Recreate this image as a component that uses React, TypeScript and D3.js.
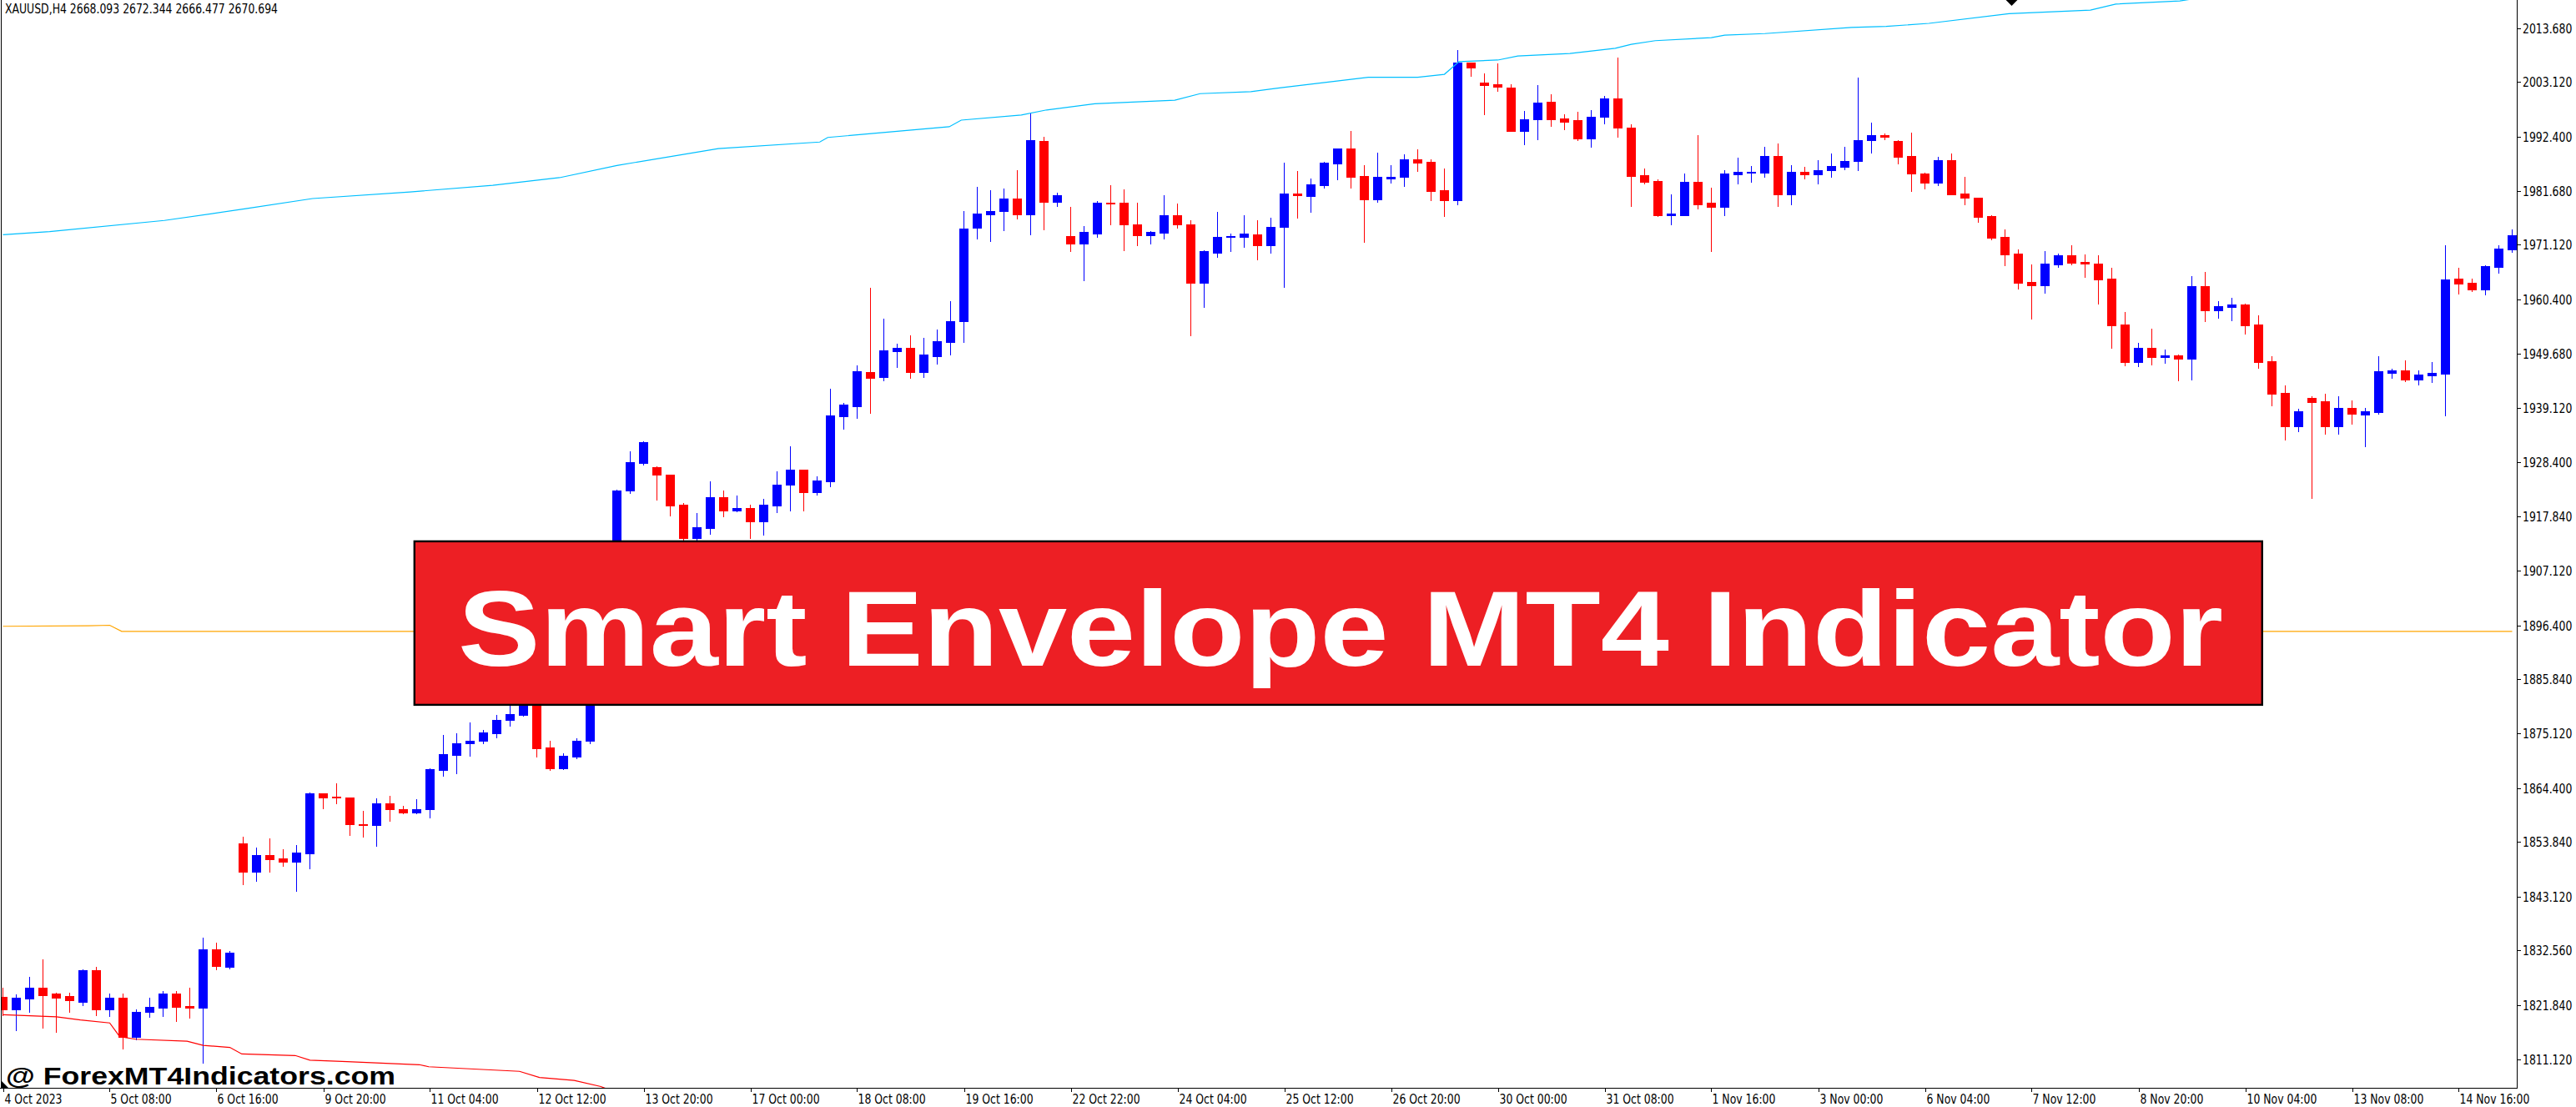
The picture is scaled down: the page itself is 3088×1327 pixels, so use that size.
import React from "react";
import * as d3 from "d3";

const symbolLabel = "XAUUSD,H4  2668.093 2672.344 2666.477 2670.694";
const bannerTitle = "Smart Envelope MT4 Indicator";
const watermark = "@ ForexMT4Indicators.com";

const priceTicks = [
  2013.68, 2003.12, 1992.4, 1981.68, 1971.12, 1960.4, 1949.68, 1939.12, 1928.4, 1917.84,
  1907.12, 1896.4, 1885.84, 1875.12, 1864.4, 1853.84, 1843.12, 1832.56, 1821.84, 1811.12,
];

const timeLabels = [
  "4 Oct 2023", "5 Oct 08:00", "6 Oct 16:00", "9 Oct 20:00", "11 Oct 04:00", "12 Oct 12:00",
  "13 Oct 20:00", "17 Oct 00:00", "18 Oct 08:00", "19 Oct 16:00", "22 Oct 22:00", "24 Oct 04:00",
  "25 Oct 12:00", "26 Oct 20:00", "30 Oct 00:00", "31 Oct 08:00", "1 Nov 16:00", "3 Nov 00:00",
  "6 Nov 04:00", "7 Nov 12:00", "8 Nov 20:00", "10 Nov 04:00", "13 Nov 08:00", "14 Nov 16:00",
];
const barsPerLabel = 8;

const opens = [
  1823.4, 1820.9, 1823.1, 1825.2, 1824.1, 1823.6, 1822.5, 1828.6, 1820.9, 1823.3,
  1815.6, 1820.4, 1821.3, 1824.1, 1821.6, 1821.3, 1832.8, 1829.3, 1853.6, 1848.0,
  1851.3, 1850.6, 1849.9, 1851.6, 1863.4, 1862.7, 1862.5, 1857.4, 1857.2, 1861.4,
  1860.3, 1859.7, 1860.2, 1867.9, 1871.0, 1873.2, 1873.7, 1875.2, 1877.8, 1878.8,
  1884.5, 1872.4, 1868.3, 1870.6, 1873.7, 1884.0, 1900.5, 1922.9, 1928.3, 1927.5,
  1925.9, 1920.1, 1913.5, 1915.5, 1921.5, 1918.9, 1919.4, 1916.8, 1919.9, 1924.0,
  1926.9, 1922.5, 1924.7, 1937.4, 1939.4, 1946.1, 1945.1, 1950.3, 1950.8, 1946.1,
  1949.2, 1952.0, 1956.1, 1974.4, 1977.1, 1977.7, 1980.2, 1977.1, 1991.5, 1979.6,
  1972.8, 1971.4, 1973.4, 1979.4, 1979.4, 1975.2, 1973.0, 1973.5, 1976.9, 1975.2,
  1963.7, 1969.6, 1972.6, 1972.7, 1973.2, 1971.0, 1974.6, 1981.2, 1980.7, 1982.9,
  1987.1, 1990.0, 1984.6, 1980.1, 1984.2, 1984.4, 1987.9, 1987.4, 1981.9, 1979.8,
  2006.9, 2003.0, 2002.7, 2002.0, 1993.5, 1995.7, 1999.2, 1995.9, 1995.6, 1992.0,
  1996.2, 1999.9, 1994.1, 1984.8, 1983.7, 1977.0, 1977.0, 1983.5, 1979.3, 1978.5,
  1984.9, 1985.3, 1985.3, 1988.6, 1981.1, 1985.5, 1984.9, 1985.7, 1986.5, 1987.5,
  1991.7, 1992.6, 1991.5, 1988.6, 1985.1, 1983.3, 1987.8, 1981.2, 1980.3, 1976.7,
  1972.6, 1969.4, 1963.8, 1963.1, 1967.3, 1969.0, 1967.7, 1967.5, 1964.5, 1955.4,
  1948.1, 1950.8, 1949.0, 1949.4, 1948.8, 1963.0, 1958.3, 1958.9, 1959.4, 1955.4,
  1948.2, 1942.0, 1935.4, 1941.0, 1940.4, 1935.4, 1939.0, 1937.8, 1938.2, 1946.0,
  1946.4, 1944.7, 1945.5, 1945.8, 1964.4, 1963.6, 1962.4, 1966.8, 1970.2,
];
const highs = [
  1825.2, 1823.9, 1827.4, 1830.8, 1824.3, 1824.2, 1828.8, 1829.3, 1824.1, 1824.1,
  1821.0, 1823.3, 1824.6, 1824.6, 1825.2, 1835.1, 1834.1, 1832.4, 1854.8, 1852.8,
  1854.5, 1852.4, 1853.3, 1863.5, 1863.4, 1865.4, 1862.5, 1859.9, 1862.4, 1862.9,
  1861.0, 1862.2, 1868.3, 1874.8, 1875.2, 1877.3, 1875.8, 1878.8, 1880.6, 1885.5,
  1886.0, 1873.7, 1871.2, 1874.2, 1885.0, 1902.0, 1923.0, 1930.6, 1932.6, 1927.6,
  1926.0, 1920.4, 1918.4, 1924.6, 1922.9, 1921.9, 1920.1, 1921.3, 1926.6, 1931.5,
  1927.0, 1925.6, 1942.8, 1940.1, 1947.4, 1962.7, 1956.6, 1951.7, 1953.3, 1952.8,
  1954.4, 1960.1, 1977.7, 1982.5, 1981.8, 1982.1, 1985.7, 1997.0, 1992.3, 1981.3,
  1978.5, 1974.8, 1979.7, 1982.8, 1982.0, 1979.4, 1973.8, 1980.9, 1979.2, 1975.9,
  1970.0, 1977.6, 1973.4, 1976.9, 1976.0, 1976.4, 1987.3, 1985.6, 1984.1, 1987.4,
  1990.1, 1993.5, 1986.8, 1989.2, 1986.8, 1988.9, 1989.9, 1987.9, 1986.1, 2009.4,
  2006.9, 2004.8, 2006.7, 2002.7, 1997.4, 2002.5, 2000.7, 1996.8, 1997.2, 1997.6,
  2000.4, 2007.9, 1994.8, 1986.1, 1984.0, 1981.1, 1985.1, 1992.7, 1982.3, 1985.7,
  1988.2, 1986.6, 1990.4, 1991.0, 1986.8, 1986.4, 1987.7, 1989.1, 1990.3, 2004.0,
  1995.1, 1993.0, 1991.6, 1993.1, 1985.2, 1988.4, 1989.0, 1984.5, 1980.4, 1977.0,
  1974.1, 1970.2, 1967.3, 1969.9, 1969.4, 1971.1, 1969.3, 1969.0, 1966.6, 1957.9,
  1951.8, 1954.6, 1950.5, 1949.6, 1965.0, 1965.8, 1960.1, 1960.7, 1959.5, 1957.3,
  1949.2, 1943.5, 1938.9, 1941.4, 1941.9, 1941.3, 1940.6, 1939.0, 1949.2, 1946.7,
  1948.4, 1946.4, 1948.1, 1971.0, 1966.6, 1964.4, 1967.1, 1971.0, 1974.1,
];
const lows = [
  1819.8, 1816.8, 1820.4, 1817.3, 1816.6, 1820.5, 1821.8, 1819.8, 1819.7, 1813.2,
  1815.1, 1819.5, 1819.7, 1818.7, 1819.3, 1810.5, 1828.9, 1829.0, 1845.5, 1846.2,
  1848.0, 1849.1, 1844.3, 1848.7, 1860.4, 1861.4, 1855.2, 1854.9, 1853.0, 1858.0,
  1859.4, 1859.4, 1858.7, 1866.9, 1867.4, 1870.7, 1873.3, 1874.4, 1876.7, 1878.6,
  1870.6, 1867.9, 1868.2, 1870.2, 1873.3, 1882.5, 1899.0, 1922.4, 1927.9, 1921.1,
  1917.9, 1911.8, 1911.5, 1914.4, 1917.7, 1918.7, 1913.5, 1914.2, 1918.6, 1918.9,
  1919.0, 1922.1, 1923.7, 1935.0, 1937.1, 1938.1, 1944.5, 1947.1, 1944.9, 1945.1,
  1947.8, 1949.6, 1952.0, 1972.4, 1971.9, 1974.0, 1976.3, 1973.2, 1974.2, 1978.8,
  1969.9, 1964.2, 1972.7, 1975.2, 1970.1, 1971.1, 1971.4, 1972.4, 1974.4, 1953.4,
  1958.9, 1968.8, 1969.9, 1970.7, 1968.3, 1969.5, 1962.9, 1976.5, 1977.6, 1982.4,
  1983.9, 1982.4, 1971.7, 1979.6, 1983.3, 1982.7, 1985.6, 1979.9, 1976.8, 1979.1,
  2004.2, 1996.8, 2001.4, 1993.4, 1990.9, 1991.9, 1994.5, 1993.8, 1991.6, 1990.4,
  1995.0, 1992.4, 1978.8, 1983.1, 1976.8, 1975.2, 1977.0, 1978.2, 1969.8, 1977.0,
  1983.2, 1983.5, 1984.4, 1978.8, 1979.0, 1984.2, 1983.2, 1984.5, 1986.0, 1985.8,
  1989.2, 1991.9, 1987.1, 1981.7, 1982.2, 1982.8, 1981.0, 1979.1, 1975.6, 1972.2,
  1967.1, 1962.5, 1956.6, 1961.7, 1966.8, 1967.2, 1964.8, 1959.5, 1950.9, 1947.4,
  1947.3, 1947.6, 1947.9, 1944.5, 1944.6, 1956.1, 1956.8, 1956.3, 1953.7, 1946.9,
  1939.6, 1932.9, 1934.5, 1921.4, 1934.0, 1934.0, 1935.9, 1931.6, 1938.0, 1945.0,
  1944.3, 1943.7, 1944.1, 1937.6, 1961.5, 1962.0, 1961.3, 1965.7, 1969.7,
];
const closes = [
  1820.9, 1823.3, 1825.2, 1823.8, 1823.3, 1822.7, 1828.6, 1820.9, 1823.3, 1815.6,
  1820.5, 1821.5, 1824.1, 1821.5, 1821.3, 1832.8, 1829.5, 1832.1, 1848.0, 1851.3,
  1850.5, 1849.9, 1851.8, 1863.4, 1862.6, 1862.5, 1857.4, 1857.2, 1861.4, 1860.2,
  1859.7, 1860.3, 1868.1, 1871.1, 1873.2, 1873.7, 1875.3, 1877.8, 1879.0, 1884.6,
  1872.3, 1868.3, 1870.7, 1873.7, 1884.0, 1900.5, 1922.8, 1928.4, 1932.4, 1925.9,
  1919.9, 1913.5, 1915.6, 1921.5, 1919.0, 1919.4, 1916.8, 1920.1, 1924.0, 1926.9,
  1922.5, 1924.8, 1937.6, 1939.7, 1946.3, 1945.0, 1950.4, 1950.8, 1946.1, 1949.6,
  1952.2, 1956.1, 1974.3, 1977.3, 1977.7, 1980.2, 1977.1, 1991.6, 1979.6, 1980.9,
  1971.4, 1973.6, 1979.4, 1979.2, 1975.2, 1973.0, 1973.6, 1976.9, 1975.2, 1963.7,
  1969.9, 1972.6, 1972.9, 1973.3, 1971.0, 1974.6, 1981.2, 1980.8, 1983.0, 1987.3,
  1990.0, 1984.5, 1980.1, 1984.5, 1984.5, 1987.9, 1987.3, 1981.7, 1979.8, 2006.9,
  2006.0, 2002.5, 2002.1, 1993.5, 1995.8, 1999.0, 1995.8, 1995.3, 1992.0, 1996.3,
  1999.9, 1994.2, 1984.7, 1983.5, 1977.0, 1977.2, 1983.5, 1979.1, 1978.5, 1985.1,
  1985.5, 1985.5, 1988.6, 1981.1, 1985.5, 1984.9, 1985.8, 1986.6, 1987.6, 1991.7,
  1992.6, 1992.4, 1988.4, 1985.1, 1983.3, 1987.8, 1981.1, 1980.3, 1976.6, 1972.5,
  1969.3, 1963.6, 1963.1, 1967.5, 1969.0, 1967.6, 1967.4, 1964.3, 1955.3, 1948.1,
  1950.8, 1949.1, 1949.4, 1948.8, 1963.0, 1958.3, 1959.1, 1959.4, 1955.3, 1948.1,
  1941.9, 1935.4, 1938.4, 1940.3, 1935.4, 1939.0, 1938.0, 1938.4, 1946.3, 1946.4,
  1944.7, 1945.6, 1945.9, 1964.3, 1963.5, 1962.4, 1966.9, 1970.4, 1973.0,
];

// Smart Envelope lines: vertices (bar index, price)
const upperBars = [0, 3.5, 12.1, 18.2, 23.2, 30.5, 36.7, 41.7, 46, 53.6, 61.2, 61.8, 70.9, 71.8, 76.3, 78.2, 81.8, 87.8, 89.7, 93.5, 95.9, 102.3, 106, 108, 109.1, 112, 113.5, 117.4, 120.8, 122, 123.8, 128, 129, 132, 138.5, 141.1, 144.3, 150.3, 156.4, 158.3, 163.1, 164.8];
const upperPrices = [1973.1, 1973.7, 1975.9, 1978.2, 1980.2, 1981.5, 1982.8, 1984.3, 1986.7, 1990.0, 1991.3, 1992.2, 1994.3, 1995.6, 1996.6, 1997.6, 1998.8, 1999.5, 2000.8, 2001.2, 2002.0, 2004.0, 2004.0, 2004.6, 2007.1, 2007.4, 2008.2, 2008.7, 2009.7, 2010.5, 2011.2, 2011.8, 2012.3, 2012.6, 2013.8, 2014.0, 2014.6, 2016.5, 2017.2, 2018.4, 2019.0, 2019.7];
const middleBars = [0, 6.4, 8.0, 8.9, 188];
const middlePrices = [1896.2, 1896.3, 1896.4, 1895.2, 1895.2];
const lowerBars = [0, 4.0, 5.8, 8.0, 8.75, 9.95, 13.8, 15.0, 17.0, 17.9, 21.9, 23.0, 25.8, 31.2, 31.9, 38.7, 40.2, 42.8, 44.8, 46];
const lowerPrices = [1819.9, 1819.5, 1818.9, 1818.3, 1815.6, 1815.1, 1814.7, 1813.9, 1813.5, 1812.2, 1811.9, 1811.0, 1810.7, 1810.1, 1809.7, 1808.8, 1807.6, 1807.0, 1805.8, 1804.6];

const arrowBar = 150.5;
const arrowPrice = 2019.2;

const W = 3088;
const H = 1327;
const FONT = "'DejaVu Sans', Verdana, sans-serif";
const BOLD = "'Liberation Sans', Arial, Helvetica, sans-serif";

export default function App() {
  const plotLeft = 2;
  const plotRight = 3017;
  const plotTop = 0;
  const plotBottom = 1304;

  const x = d3.scaleLinear().domain([0, 188]).range([3.5, 3011.5]);
  const y = d3.scaleLinear().domain([1805.56, 2019.19]).range([plotBottom, plotTop]);

  const lineGen = d3
    .line<[number, number]>()
    .x((d) => x(d[0]))
    .y((d) => y(d[1]));

  const upperPts = upperBars.map((b, i) => [b, upperPrices[i]] as [number, number]);
  const middlePts = middleBars.map((b, i) => [b, middlePrices[i]] as [number, number]);
  const lowerPts = lowerBars.map((b, i) => [b, lowerPrices[i]] as [number, number]);

  const bodyW = 11;
  const sx = 0.83;

  const ax = x(arrowBar);
  const ay = y(arrowPrice);

  return (
    <div style={{ width: W, height: H, background: "#fff" }}>
      <style>{"html,body{margin:0;padding:0;background:#fff;}"}</style>
      <svg width={W} height={H} viewBox={`0 0 ${W} ${H}`} style={{ display: "block" }}>
        <rect x={0} y={0} width={W} height={H} fill="#fff" />
        <defs>
          <clipPath id="plot">
            <rect x={plotLeft} y={plotTop} width={plotRight - plotLeft} height={plotBottom - plotTop} />
          </clipPath>
        </defs>

        <g clipPath="url(#plot)" shapeRendering="crispEdges">
          {opens.map((o, i) => {
            const c = closes[i];
            const up = c >= o;
            const col = up ? "#0000FF" : "#FF0000";
            const cx = x(i);
            const yTop = Math.round(y(Math.max(o, c)));
            const yBot = Math.round(y(Math.min(o, c)));
            const yH = Math.round(y(highs[i]));
            const yL = Math.round(y(lows[i]));
            return (
              <g key={i}>
                <rect x={cx - 0.5} y={yH} width={1} height={Math.max(1, yL - yH + 1)} fill={col} />
                <rect x={cx - bodyW / 2} y={yTop} width={bodyW} height={Math.max(1, yBot - yTop + 1)} fill={col} />
              </g>
            );
          })}
        </g>

        <g clipPath="url(#plot)" fill="none" strokeWidth={1.2}>
          <path d={lineGen(upperPts) || ""} stroke="#00BFFF" />
          <path d={lineGen(middlePts) || ""} stroke="#FFA500" />
          <path d={lineGen(lowerPts) || ""} stroke="#FF0000" />
          <path d={`M${ax - 7},${ay} L${ax + 7},${ay} L${ax},${ay + 7} Z`} fill="#000" stroke="none" />
        </g>

        {/* frame */}
        <g stroke="#000" strokeWidth={1} shapeRendering="crispEdges">
          <line x1={1.5} y1={0} x2={1.5} y2={plotBottom} />
          <line x1={plotRight + 0.5} y1={0} x2={plotRight + 0.5} y2={plotBottom + 0.5} />
          <line x1={0} y1={plotBottom + 0.5} x2={plotRight + 0.5} y2={plotBottom + 0.5} />
        </g>

        {/* price axis */}
        <g>
          {priceTicks.map((p) => {
            const ty = Math.round(y(p)) + 0.5;
            return (
              <g key={p}>
                <line x1={plotRight} x2={plotRight + 5} y1={ty} y2={ty} stroke="#000" strokeWidth={1} shapeRendering="crispEdges" />
                <text
                  transform={`translate(3024,${ty + 5}) scale(${sx},1)`}
                  fontFamily={FONT}
                  fontSize={15}
                  fill="#000"
                >
                  {p.toFixed(3)}
                </text>
              </g>
            );
          })}
        </g>

        {/* time axis */}
        <g>
          {timeLabels.map((lab, k) => {
            const tx = Math.round(x(k * barsPerLabel)) + 0.5;
            return (
              <g key={lab}>
                <line x1={tx} x2={tx} y1={plotBottom} y2={plotBottom + 5} stroke="#000" strokeWidth={1} shapeRendering="crispEdges" />
                <text
                  transform={`translate(${tx + 1},1323) scale(${sx},1)`}
                  fontFamily={FONT}
                  fontSize={15}
                  fill="#000"
                >
                  {lab}
                </text>
              </g>
            );
          })}
        </g>

        {/* symbol label */}
        <text transform={`translate(6,15.5) scale(${sx},1)`} fontFamily={FONT} fontSize={15} fill="#000">
          {symbolLabel}
        </text>

        {/* banner */}
        <rect x={496.8} y={648.9} width={2215} height={196} fill="#ED1F24" stroke="#000" strokeWidth={2.4} />
        <text
          x={549}
          y={798}
          fontFamily={BOLD}
          fontWeight="bold"
          fontSize={128}
          fill="#fff"
          textLength={2116}
          lengthAdjust="spacingAndGlyphs"
        >
          {bannerTitle}
        </text>

        {/* watermark */}
        <path d={`M2,1296 L2,1304 L10,1304 Z`} fill="#000" />
        <text
          x={7}
          y={1300}
          fontFamily={BOLD}
          fontWeight="bold"
          fontSize={30}
          fill="#000"
          textLength={467}
          lengthAdjust="spacingAndGlyphs"
        >
          {watermark}
        </text>
      </svg>
    </div>
  );
}
